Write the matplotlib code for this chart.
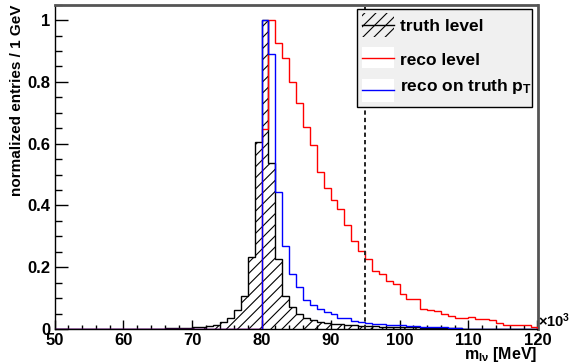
import numpy as np
import matplotlib
matplotlib.use("Agg")
import matplotlib.pyplot as plt
from matplotlib.patches import Rectangle
from matplotlib.lines import Line2D

# ---------------- data ----------------
bin_low = 50
bin_high = 120
bin_edges = np.arange(bin_low, bin_high + 1, 1)  # 1 GeV bins (axis in MeV x10^3)

truth_level = [
    0, 0, 0, 0, 0, 0, 0, 0, 0, 0,                 # 50-59
    0, 0, 0.0005, 0.001, 0.001, 0.0015, 0.002, 0.002, 0.003, 0.004,   # 60-69
    0.005, 0.007, 0.010, 0.014, 0.023, 0.034, 0.060, 0.108, 0.234, 0.604,  # 70-79
    1.0, 0.537, 0.227, 0.106, 0.071, 0.048, 0.037, 0.028, 0.023, 0.020,  # 80-89
    0.017, 0.015, 0.013, 0.012, 0.011, 0.010, 0.009, 0.008, 0.007, 0.006,  # 90-99
    0.006, 0.005, 0.005, 0.004, 0.004, 0.003, 0.003, 0.002, 0.002, 0,      # 100-109
    0, 0, 0, 0, 0, 0, 0, 0, 0, 0,                 # 110-119
]

reco_level = [
    0, 0, 0, 0, 0, 0, 0, 0, 0, 0,
    0, 0, 0, 0, 0, 0, 0, 0, 0, 0,
    0, 0, 0, 0, 0, 0, 0, 0, 0, 0,
    0.648, 1.0, 0.927, 0.876, 0.801, 0.731, 0.653, 0.596, 0.508, 0.458,
    0.417, 0.387, 0.337, 0.285, 0.252, 0.228, 0.189, 0.179, 0.156, 0.147,
    0.113, 0.097, 0.097, 0.066, 0.062, 0.057, 0.050, 0.043, 0.036, 0.036,
    0.040, 0.033, 0.031, 0.028, 0.019, 0.012, 0.012, 0.012, 0.012, 0.006,
]

reco_on_truth_pt = [
    0, 0, 0, 0, 0, 0, 0, 0, 0, 0,
    0, 0, 0, 0, 0, 0, 0, 0, 0, 0,
    0, 0, 0, 0, 0, 0, 0, 0, 0, 0,
    1.0, 0.889, 0.443, 0.270, 0.177, 0.135, 0.095, 0.079, 0.064, 0.054,
    0.047, 0.037, 0.037, 0.026, 0.022, 0.021, 0.016, 0.016, 0.013, 0.014,
    0.012, 0.010, 0.010, 0.008, 0.007, 0.006, 0.005, 0.004, 0.002, 0,
    0, 0, 0, 0, 0, 0, 0, 0, 0, 0,
]

cut_value = 95
x_major_ticks = [50, 60, 70, 80, 90, 100, 110, 120]
y_major_ticks = [0, 0.2, 0.4, 0.6, 0.8, 1.0]
y_tick_labels = ["0", "0.2", "0.4", "0.6", "0.8", "1"]
legend_labels = ["truth level", "reco level", "reco on truth p$_{\\mathrm{T}}$"]

# ---------------- style ----------------
FONT = "Liberation Sans"
plt.rcParams["font.family"] = [FONT, "DejaVu Sans"]
plt.rcParams["font.weight"] = "bold"
plt.rcParams["mathtext.fontset"] = "custom"
plt.rcParams["mathtext.rm"] = FONT + ":bold"
plt.rcParams["mathtext.bf"] = FONT + ":bold"
plt.rcParams["mathtext.it"] = FONT + ":bold"
plt.rcParams["hatch.linewidth"] = 0.8

W, H = 570, 362
DPI = 100
fig = plt.figure(figsize=(W / DPI, H / DPI), dpi=DPI)

def fx(px):
    return px / W

def fy(py):
    return 1 - py / H

ax_l, ax_r, ax_t, ax_b = 54.5, 537.5, 4.7, 329
ax = fig.add_axes([fx(ax_l), fy(ax_b), (ax_r - ax_l) / W, (ax_b - ax_t) / H])

ax.stairs(truth_level, bin_edges, fill=True, facecolor="none",
          edgecolor="black", hatch="///", linewidth=1.0, zorder=2)
ax.stairs(reco_level, bin_edges, color="#ff0000", linewidth=1.0, zorder=3)
ax.stairs(reco_on_truth_pt, bin_edges, color="#0000ff", linewidth=1.0, zorder=4)
ax.axvline(cut_value, color="#222222", linestyle=(0, (2.2, 1.6)), linewidth=1.4, zorder=5)

ax.set_xlim(bin_low, bin_high)
ax.set_ylim(0, 1.05)

ax.set_xticks(x_major_ticks)
ax.set_xticklabels([str(t) for t in x_major_ticks])
ax.set_xticks(np.arange(bin_low, bin_high + 0.1, 2), minor=True)
ax.set_yticks(y_major_ticks)
ax.set_yticklabels(y_tick_labels)
ax.set_yticks(np.arange(0, 1.051, 0.05), minor=True)

ax.tick_params(axis="both", which="both", direction="in", labelsize=12, width=1.0, color="black")
ax.tick_params(axis="x", which="major", length=6.3, pad=3.0)
ax.tick_params(axis="x", which="minor", length=3.2)
ax.tick_params(axis="y", which="major", length=9.5, pad=3)
ax.tick_params(axis="y", which="minor", length=4.8)
for lab in ax.get_xticklabels() + ax.get_yticklabels():
    lab.set_fontweight("bold")

ax.spines["left"].set_color("black")
ax.spines["bottom"].set_color("black")
ax.spines["left"].set_linewidth(1.0)
ax.spines["bottom"].set_linewidth(1.0)
ax.spines["top"].set_color("#555555")
ax.spines["right"].set_color("#555555")
ax.spines["top"].set_linewidth(2.0)
ax.spines["right"].set_linewidth(2.0)

# axis titles
fig.text(fx(ax_r), fy(358.5), "m$_{\\mathrm{l\\nu}}$ [MeV]", ha="right", va="baseline",
         fontsize=11.5, fontweight="bold")
fig.text(fx(17.5), fy(5), "normalized entries / 1 GeV", rotation=90, ha="center", va="top",
         fontsize=11, fontweight="bold")
fig.text(fx(537.5), fy(321), "\u00d710$^{\\mathrm{3}}$", ha="left", va="center",
         fontsize=10.5, fontweight="bold")

# legend (ROOT TLegend style)
lx0, ly0, lx1, ly1 = 357, 9.3, 531.7, 106.7
fig.add_artist(Rectangle((fx(lx0), fy(ly1)), (lx1 - lx0) / W, (ly1 - ly0) / H,
                         transform=fig.transFigure, facecolor="#f0f0f0",
                         edgecolor="black", linewidth=1.0, zorder=10))
sx0, sx1 = 362.3, 393.7
# truth sample: hatched box
fig.add_artist(Rectangle((fx(sx0), fy(36.7)), (sx1 - sx0) / W, 24 / H,
                         transform=fig.transFigure, facecolor="none",
                         edgecolor="black", hatch="///", linewidth=0, zorder=11))
fig.add_artist(Line2D([fx(sx0), fx(sx1)], [fy(25), fy(25)], transform=fig.transFigure,
                      color="black", linewidth=1.0, zorder=12))
# reco sample
fig.add_artist(Rectangle((fx(sx0), fy(68.3)), (sx1 - sx0) / W, 21.6 / H,
                         transform=fig.transFigure, facecolor="white",
                         edgecolor="none", zorder=11))
fig.add_artist(Line2D([fx(sx0), fx(sx1)], [fy(57.7), fy(57.7)], transform=fig.transFigure,
                      color="#ff0000", linewidth=1.0, zorder=12))
# reco on truth pT sample
fig.add_artist(Rectangle((fx(sx0), fy(101.7)), (sx1 - sx0) / W, 22.7 / H,
                         transform=fig.transFigure, facecolor="white",
                         edgecolor="none", zorder=11))
fig.add_artist(Line2D([fx(sx0), fx(sx1)], [fy(90), fy(90)], transform=fig.transFigure,
                      color="#0000ff", linewidth=1.0, zorder=12))

text_y = [26.7, 60.5, 86]
for lab, ty in zip(legend_labels, text_y):
    fig.text(fx(400), fy(ty), lab, ha="left", va="center", fontsize=12.5,
             fontweight="bold", zorder=13)

fig.savefig("out.png", dpi=DPI)
